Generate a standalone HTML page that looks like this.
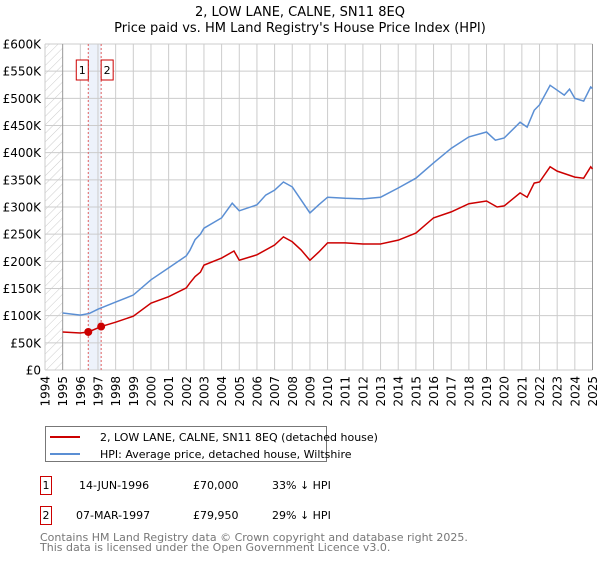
<!DOCTYPE html>
<html><head><meta charset="utf-8"><style>
body{margin:0;background:#fff;font-family:"Liberation Sans","DejaVu Sans",sans-serif;}
svg text{font-family:"DejaVu Sans","Liberation Sans",sans-serif;}
</style></head><body>
<svg id="chart" width="600" height="560" xmlns="http://www.w3.org/2000/svg">
<defs><pattern id="hatch" width="6" height="6" patternUnits="userSpaceOnUse" patternTransform="rotate(45)"><line x1="0" y1="0" x2="0" y2="6" stroke="#ccc" stroke-width="1"/></pattern></defs>
<text x="300" y="16" text-anchor="middle" font-size="13">2, LOW LANE, CALNE, SN11 8EQ</text>
<text x="300" y="32" text-anchor="middle" font-size="13">Price paid vs. HM Land Registry's House Price Index (HPI)</text>
<g id="grid"></g><g id="marks"></g><g id="axes"></g>
<g>
<rect x="45.5" y="426.5" width="281" height="35" fill="#fff" stroke="#777"/>
<line x1="50" y1="437" x2="80" y2="437" stroke="#cc0000" stroke-width="2"/>
<text x="100" y="441" font-size="11">2, LOW LANE, CALNE, SN11 8EQ (detached house)</text>
<line x1="50" y1="454" x2="80" y2="454" stroke="#5b8fd4" stroke-width="2"/>
<text x="100" y="458" font-size="11">HPI: Average price, detached house, Wiltshire</text>
</g>
<g font-size="11">
<rect x="40.5" y="476.5" width="11" height="18" fill="none" stroke="#cc0000"/><text x="46" y="489" text-anchor="middle">1</text>
<text x="79" y="489">14-JUN-1996</text><text x="193" y="489">£70,000</text><text x="272" y="489">33% ↓ HPI</text>
<rect x="40.5" y="506.5" width="11" height="18" fill="none" stroke="#cc0000"/><text x="46" y="519" text-anchor="middle">2</text>
<text x="76" y="519">07-MAR-1997</text><text x="193" y="519">£79,950</text><text x="272" y="519">29% ↓ HPI</text>
</g>
<text x="40" y="541" font-size="11" fill="#777">Contains HM Land Registry data © Crown copyright and database right 2025.</text>
<text x="40" y="551" font-size="11" fill="#777">This data is licensed under the Open Government Licence v3.0.</text>
</svg>
<script>
const hpiYears=[1995,1996,1996.5,1997,1998,1999,2000,2001,2002,2002.2,2002.5,2002.8,2003,2004,2004.6,2005,2006,2006.5,2007,2007.5,2008,2008.5,2009,2009.5,2010,2011,2012,2013,2014,2015,2016,2017,2018,2019,2019.5,2020,2020.9,2021.3,2021.7,2022,2022.6,2023,2023.4,2023.7,2024,2024.5,2024.9,2025];
const hpiValues=[105,101,104,112,125,138,166,188,210,220,240,250,261,280,307,293,304,322,331,346,337,313,289,304,318,316,315,318,335,353,381,408,429,438,423,427,456,447,478,488,524,515,506,517,500,495,521,518];
const priceYears=[1995,1996,1996.45,1997.18,1998,1999,2000,2001,2002,2002.2,2002.5,2002.8,2003,2004,2004.7,2005,2006,2007,2007.5,2008,2008.5,2009,2009.5,2010,2011,2012,2013,2014,2015,2016,2017,2018,2019,2019.6,2020,2020.9,2021.3,2021.7,2022,2022.6,2023,2024,2024.5,2024.9,2025];
const priceValues=[70,68,70,79.95,88,99,123,135,151,160,172,180,193,206,219,202,212,230,245,236,221,202,217,234,234,232,232,239,252,280,291,306,311,300,302,326,318,344,346,374,366,355,353,374,370];
const saleYears=[1996.45,1997.18];
const saleValues=[70,79.95];
const saleLabels=["1","2"];
const yTicks=[0,50,100,150,200,250,300,350,400,450,500,550,600];
const yTickLabels=["£0","£50K","£100K","£150K","£200K","£250K","£300K","£350K","£400K","£450K","£500K","£550K","£600K"];
const xTicks=[1994,1995,1996,1997,1998,1999,2000,2001,2002,2003,2004,2005,2006,2007,2008,2009,2010,2011,2012,2013,2014,2015,2016,2017,2018,2019,2020,2021,2022,2023,2024,2025];
const NS="http://www.w3.org/2000/svg";
const X0=45,X1=592.5,Y0=370,Y1=44;
const x=y=>X0+(y-1994)*(X1-X0)/31;
const yv=v=>Y0-v*(Y0-Y1)/600;
function mk(tag,attrs,parent){const e=document.createElementNS(NS,tag);for(const k in attrs)e.setAttribute(k,attrs[k]);parent.appendChild(e);return e;}
const grid=document.getElementById('grid'),marks=document.getElementById('marks'),axes=document.getElementById('axes');
mk('rect',{x:X0,y:Y1,width:x(1995)-X0,height:Y0-Y1,fill:'url(#hatch)'},grid);
const shade=mk('rect',{x:x(saleYears[0]),y:Y1,width:x(saleYears[1])-x(saleYears[0]),height:Y0-Y1,fill:'#e8effa',opacity:0.8},grid);


yTicks.forEach((t,i)=>{
 const l=mk('line',{x1:X0,x2:X1,y1:yv(t),y2:yv(t),stroke:'#ccc'},grid);
 
 
 const tx=mk('text',{x:41,y:yv(t)+4.5,'text-anchor':'end','font-size':12},axes);
 tx.textContent=yTickLabels[i];
 
 
});
xTicks.forEach(t=>{
 const l=mk('line',{x1:x(t),x2:x(t),y1:Y1,y2:Y0,stroke:(t==1995||t==2025)?'#999':'#ccc'},grid);
 
 
 const tx=mk('text',{x:0,y:0,'text-anchor':'end','font-size':12,transform:`translate(${x(t)+4.5},376) rotate(-90)`},axes);
 tx.textContent=t;
 
 
});
saleYears.forEach((s,i)=>{
 const l=mk('line',{x1:x(s),x2:x(s),y1:Y1,y2:Y0,stroke:'#e06060','stroke-dasharray':'2,2'},marks);
 
 
 const bx=x(s)+(i==0?-12:0);
 const r=mk('rect',{x:bx,y:60,width:12,height:20,fill:'#fff',stroke:'#cc0000'},marks);
 
 
 const t=mk('text',{x:bx+6,y:74,'text-anchor':'middle','font-size':11},marks);
 t.textContent=saleLabels[i];
 
 
});
const hp=mk('polyline',{points:hpiYears.map((a,i)=>x(a)+','+yv(hpiValues[i])).join(' '),fill:'none',stroke:'#5b8fd4','stroke-width':1.5},marks);


const pp=mk('polyline',{points:priceYears.map((a,i)=>x(a)+','+yv(priceValues[i])).join(' '),fill:'none',stroke:'#cc0000','stroke-width':1.5},marks);


saleYears.forEach((s,i)=>{
 const c=mk('circle',{cx:x(s),cy:yv(saleValues[i]),r:4,fill:'#cc0000'},marks);
 
 
});
</script>
</body></html>
